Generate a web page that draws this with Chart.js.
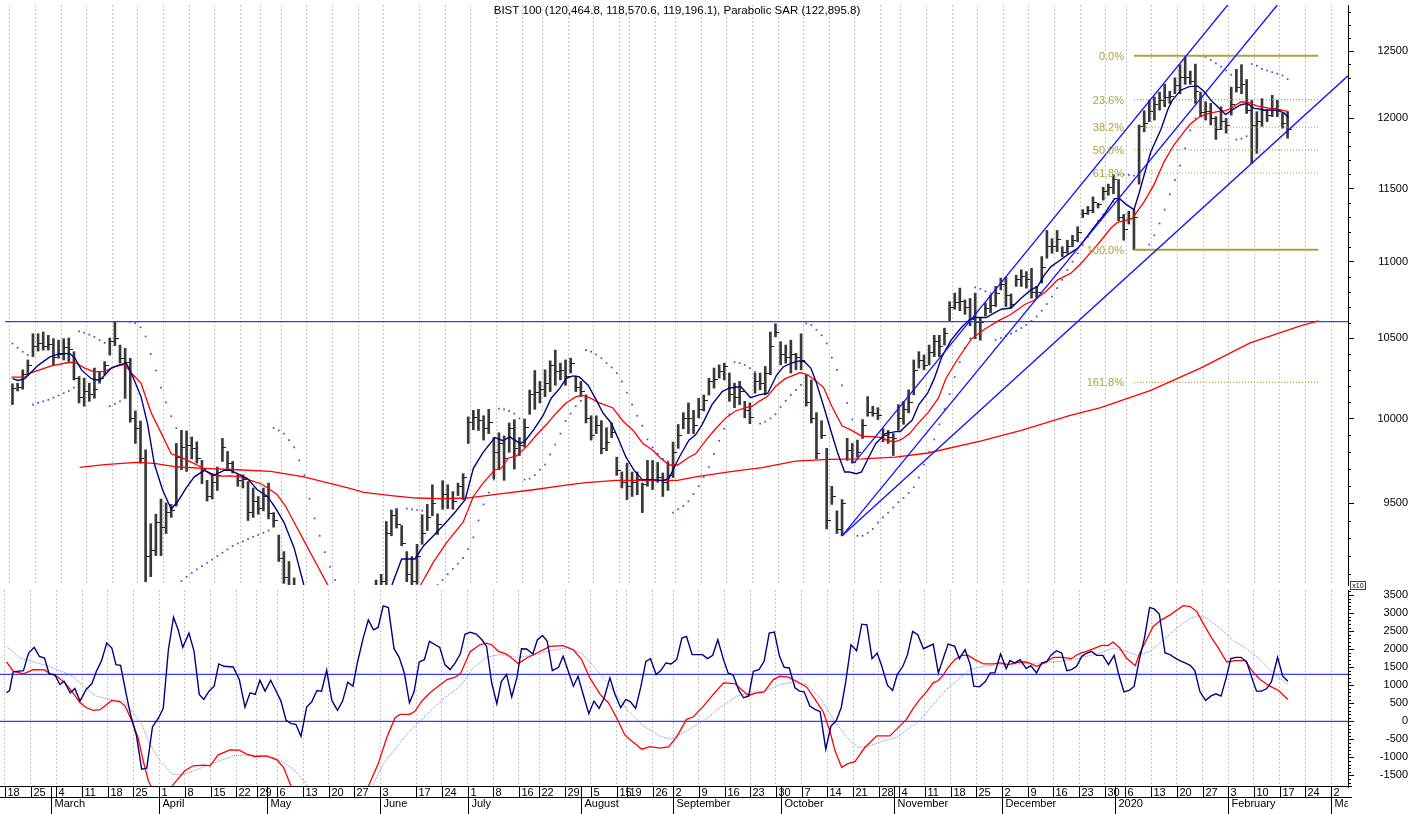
<!DOCTYPE html>
<html>
<head>
<meta charset="utf-8">
<script src="https://cdn.jsdelivr.net/npm/chart.js@4.4.1/dist/chart.umd.min.js"></script>
<style>
  html, body { margin: 0; padding: 0; background: #fff; }
  #wrap { position: relative; width: 1408px; height: 814px; overflow: hidden; }
  canvas { position: absolute; left: 0; }
  #priceCanvas { top: 0; }
  #oscCanvas { top: 590px; }
</style>
</head>
<body>
<div id="wrap">
  <canvas id="priceCanvas" width="1408" height="590"></canvas>
  <canvas id="oscCanvas" width="1408" height="224"></canvas>
</div>
<script>
// Chart title
const title = 'BIST 100 (120,464.8, 118,570.6, 119,196.1), Parabolic SAR (122,895.8)';

// trading calendar (weekends and these exchange holidays are skipped)
const firstDay = [2019, 1, 18];
const lastDay = [2020, 2, 6];
const holidays = ['2019-04-23', '2019-05-01', '2019-06-05', '2019-06-06', '2019-06-07', '2019-07-15',
  '2019-08-12', '2019-08-13', '2019-08-14', '2019-08-30', '2019-10-29', '2020-01-01'];
const hiddenWeeks = ['2019-06-10'];
const monthNames = ['January', 'February', 'March', 'April', 'May', 'June', 'July', 'August',
  'September', 'October', 'November', 'December'];

// daily bars, one value per trading day (index 0 = 18 Feb 2019)
const high = [
  10215,10219,10302,10364,10530,10530,10541,10520,10499,10489,
  10499,10503,10416,10260,10250,10219,10313,10292,10354,10503,
  10607,10458,10437,10375,10048,9987,9814,9383,9438,9525,
  9503,9494,9852,9931,9927,9891,9862,9751,9634,9673,
  9712,9882,9804,9745,9666,9666,9627,9589,9540,9589,
  9618,9447,9319,9226,9171,9080,9000,8950,8880,8860,
  8900,8880,8800,8720,8680,8620,8540,8560,8700,8800,
  8900,9068,9100,9396,9462,9470,9373,9226,9198,9267,
  9435,9494,9608,9440,9632,9608,9568,9618,9673,10012,
  10052,10058,10019,10058,9887,9916,9897,9975,9995,9887,
  9999,10176,10298,10230,10302,10358,10426,10344,10364,10375,
  10264,10230,10147,10019,10019,9989,9946,9975,9770,9683,
  9735,9683,9683,9618,9751,9751,9739,9677,9740,9860,
  9966,10038,10097,10052,10126,10146,10250,10313,10333,10344,
  10282,10219,10230,10107,10097,10282,10282,10323,10541,10594,
  10479,10458,10489,10406,10530,10271,10239,10038,9989,9823,
  9599,9457,9522,9883,9852,9872,9996,10136,10077,10068,
  9940,9930,9911,10087,10107,10178,10364,10416,10395,10458,
  10520,10520,10566,10737,10793,10826,10748,10758,10793,10634,
  10727,10779,10837,10892,10898,10788,10911,10946,10935,10957,
  10837,11035,11211,11156,11211,11101,11145,11178,11237,11354,
  11376,11442,11398,11509,11531,11597,11563,11321,11343,11354,
  11952,12056,12133,12157,12193,12251,12200,12299,12398,12465,
  12350,12402,12193,12122,12110,12013,12085,12000,12230,12363,
  12398,12287,12133,12049,12145,12061,12169,12133,12036,12046
];
const low = [
  10087,10171,10182,10271,10385,10420,10426,10426,10333,10375,
  10364,10354,10239,10097,10077,10107,10126,10219,10271,10395,
  10454,10344,10126,9980,9852,9735,9059,9087,9204,9204,
  9328,9420,9485,9696,9686,9760,9735,9615,9513,9525,
  9575,9745,9696,9677,9599,9589,9402,9420,9438,9457,
  9411,9364,9171,9050,8990,8930,8860,8800,8720,8740,
  8780,8740,8650,8580,8540,8460,8350,8400,8520,8640,
  8740,8880,8960,9020,9315,9359,9259,9059,9010,9045,
  9267,9345,9429,9322,9466,9470,9466,9545,9522,9852,
  9934,9930,9872,9911,9644,9696,9634,9799,9700,9780,
  9829,10028,10058,10097,10136,10167,10206,10239,10206,10282,
  10167,10136,9975,9872,9911,9790,9809,9887,9663,9589,
  9522,9540,9550,9447,9599,9580,9622,9540,9575,9650,
  9823,9940,9911,9911,10006,10048,10146,10188,10250,10239,
  10107,10068,10087,10006,9971,10157,10178,10147,10271,10510,
  10333,10344,10282,10302,10302,10077,9975,9760,9882,9354,
  9494,9328,9315,9751,9735,9770,9882,10016,10016,9996,
  9862,9852,9780,9930,9967,10036,10147,10313,10302,10333,
  10385,10385,10458,10607,10688,10678,10655,10582,10499,10489,
  10644,10665,10706,10814,10706,10696,10837,10837,10826,10760,
  10760,10859,11024,11057,11068,11035,11057,11101,11134,11299,
  11321,11332,11365,11420,11453,11464,11277,11145,11255,11080,
  11531,11903,11977,11988,12061,12085,12110,12181,12181,12251,
  12251,12110,12013,11988,11953,11848,11918,11893,12024,12193,
  12181,12036,11677,11748,11942,11977,12013,12013,11929,11857
];
const close = [
  10188,10190,10270,10330,10450,10470,10450,10460,10380,10400,
  10440,10430,10250,10130,10170,10150,10180,10250,10330,10480,
  10500,10370,10350,10000,9940,9760,9200,9230,9390,9360,
  9450,9460,9770,9830,9840,9820,9760,9700,9540,9620,
  9660,9830,9730,9700,9630,9640,9450,9510,9470,9540,
  9440,9400,9190,9080,9020,8960,8900,8840,8760,8820,
  8860,8780,8690,8620,8580,8500,8420,8520,8660,8760,
  8860,9010,9060,9330,9430,9380,9270,9100,9060,9200,
  9330,9420,9500,9380,9550,9530,9510,9600,9650,9980,
  10010,9990,9940,9980,9800,9850,9760,9940,9820,9840,
  9950,10150,10160,10180,10220,10330,10290,10300,10260,10340,
  10190,10170,10000,9900,9960,9820,9860,9920,9690,9620,
  9600,9620,9640,9610,9640,9630,9650,9620,9660,9800,
  9900,10000,10000,9960,10060,10110,10230,10240,10290,10320,
  10150,10130,10170,10050,10010,10230,10220,10280,10450,10540,
  10400,10380,10400,10380,10360,10100,10000,9790,9900,9400,
  9540,9350,9500,9810,9740,9800,9960,10040,10030,10020,
  9900,9890,9880,10000,10060,10100,10300,10360,10330,10410,
  10480,10450,10530,10700,10730,10740,10700,10620,10600,10600,
  10690,10710,10790,10850,10780,10720,10880,10900,10880,10800,
  10800,10960,11100,11100,11150,11060,11100,11140,11200,11330,
  11350,11400,11390,11480,11510,11560,11300,11220,11290,11300,
  11940,11960,12050,12100,12130,12150,12160,12240,12300,12300,
  12270,12200,12040,12050,12000,11920,11980,11950,12100,12230,
  12250,12060,11950,11980,12060,12020,12070,12060,11960,11920
];
// Parabolic SAR, one dot per trading day
const sar = [
  10468,10441,10416,10395,10087,10097,10107,10116,10130,10143,
  10157,10171,10192,10545,10537,10524,10510,10489,10472,10077,
  10091,10107,10126,10607,10598,10571,10513,10401,10298,10192,
  10101,10016,9944,9062,9086,9108,9127,9145,9164,9181,
  9201,9220,9238,9257,9272,9284,9298,9310,9320,9332,
  9345,9945,9930,9911,9872,9829,9751,9664,9527,9414,
  9315,9223,9141,9068,9000,8930,8870,8810,8760,8350,
  8370,8400,8450,8520,8620,8720,8830,9470,9466,9462,
  9458,9010,9025,9041,9069,9100,9130,9159,9190,9241,
  9306,9402,9494,9562,9638,10062,10058,10048,10032,10003,
  9638,9644,9664,9696,9727,9786,9845,9911,9987,10032,
  10077,10110,10426,10416,10399,10375,10344,10317,10282,10230,
  10161,10087,10019,9958,9876,9829,9790,9760,9745,9447,
  9466,9485,9512,9555,9600,9654,9712,9790,9868,9940,
  10028,10350,10344,10333,10313,10289,9971,9983,10003,10028,
  10072,10110,10147,10178,10209,10596,10585,10556,10520,10468,
  10379,10302,10205,10097,9996,9315,9315,9332,9354,9390,
  9420,9447,9476,9506,9531,9560,9593,9650,9727,9800,
  9876,9967,10060,10151,10257,10350,10440,10500,10830,10820,
  10805,10790,10490,10503,10516,10531,10548,10567,10587,10613,
  10641,10678,10722,10770,10826,10880,10946,11001,11057,11112,
  11167,11222,11277,11321,11365,11409,11597,11597,11596,11590,
  11079,11079,11116,11178,11259,11354,11460,11561,11661,11784,
  11913,12000,12464,12457,12433,12408,12383,12354,12322,11847,
  11854,11871,12403,12391,12366,12354,12342,12330,12317,12290
];

// moving averages: [day index, value]
const fastMa = [[0,10247],[1.1,10236],[2.4,10247],[3.7,10289],[5,10330],[7.3,10383],[9.2,10404],[11.2,10404],[12.2,10375],[13.5,10300],[15.4,10247],[17,10236],[18,10268],[19.3,10313],[20.6,10330],[22.2,10344],[23.2,10282],[25.1,10136],[26.4,9967],[27.7,9731],[29.3,9579],[31,9466],[32.3,9512],[33.9,9589],[35.5,9654],[37.5,9692],[39.4,9664],[41.3,9692],[42.6,9692],[43.9,9673],[45.9,9644],[47.8,9579],[49.8,9540],[51.1,9485],[53,9393],[55,9247],[56.9,9041],[60,8850],[64,8640],[67,8540],[70,8700],[72,8900],[74.1,9041],[76,9185],[78.6,9185],[80.3,9259],[82.2,9315],[84.1,9373],[86.1,9438],[88.4,9522],[90,9704],[91.9,9799],[94.2,9887],[95.8,9868],[97.1,9891],[99.1,9852],[100,9862],[101.7,9931],[103.6,10019],[105.2,10126],[106.9,10188],[108.1,10247],[109.4,10264],[110.7,10258],[112.4,10206],[114,10116],[115.3,10036],[116.9,9975],[118.2,9887],[119.8,9770],[121.4,9692],[123,9638],[125,9638],[127,9632],[128.2,9646],[130.2,9770],[132.1,9872],[133.4,9904],[134.7,9967],[136.6,10087],[138.6,10167],[139.9,10188],[140.9,10192],[142.2,10198],[144.1,10130],[145.8,10147],[147.5,10157],[149.2,10268],[150.5,10320],[152.1,10344],[153.6,10358],[154.6,10354],[155.9,10313],[156.9,10230],[158.5,10068],[159.8,9930],[161.2,9790],[162.5,9683],[163.4,9683],[164.8,9673],[165.8,9683],[167.2,9770],[168.6,9852],[170.5,9911],[172.5,9923],[173.4,9923],[174.3,9952],[175.7,9993],[177,10087],[178.7,10157],[180,10247],[181.5,10385],[183.3,10490],[185.3,10570],[186.9,10621],[187.9,10634],[190.2,10634],[191.2,10655],[193.1,10688],[195,10696],[196.9,10758],[198.9,10814],[200.2,10837],[201.5,10911],[202.8,10968],[204.1,10999],[206,11046],[208,11090],[209.3,11145],[211.2,11233],[213.2,11321],[215.2,11430],[216.2,11430],[217.4,11392],[219,11354],[220,11467],[221,11596],[222.3,11760],[224.3,11923],[225.6,12063],[226.5,12134],[228.2,12209],[229.8,12234],[231.4,12239],[232.7,12197],[234,12134],[235.3,12087],[236.9,12028],[238.2,12063],[239.8,12098],[241.1,12110],[242.4,12075],[244.3,12063],[247,12059],[248.3,12040],[249.2,12005]];
const slowMa = [[-0.2,10257],[2.4,10257],[3.7,10285],[5,10299],[7.6,10327],[10.9,10348],[12.2,10348],[14.1,10313],[16,10289],[18,10293],[19.9,10320],[21.9,10337],[23.2,10282],[25.1,10219],[27.1,10036],[29,9917],[31,9790],[32.9,9770],[34.9,9741],[36.8,9712],[38.8,9664],[40.7,9658],[42.6,9660],[44.6,9654],[46.5,9634],[48.5,9614],[50.1,9585],[51.7,9550],[53.3,9485],[55,9392],[57.2,9272],[59.5,9150],[61.4,9050],[65,8880],[70,8760],[75,8850],[79.7,9041],[82.2,9167],[84.8,9278],[88,9392],[90,9540],[91.9,9618],[94.2,9696],[95.5,9706],[96.8,9764],[98.4,9778],[100.4,9833],[102.3,9901],[104.3,9967],[106.2,10036],[108.1,10097],[110.1,10136],[111.2,10143],[112.7,10130],[114.6,10097],[117.2,10068],[119.2,9987],[121.2,9930],[123.1,9852],[125,9813],[126.6,9764],[128.2,9724],[129.9,9724],[132.1,9770],[133.4,9790],[135.4,9870],[137.3,9940],[139.3,10006],[141.2,10048],[143.2,10068],[144.5,10077],[145.8,10107],[147.4,10136],[149,10198],[150.9,10247],[152.5,10268],[153.8,10285],[155.2,10273],[156.8,10236],[158.4,10192],[160,10077],[162,9958],[163.9,9930],[165.9,9895],[168.5,9891],[169.7,9887],[171,9868],[172.3,9862],[173.6,9876],[175.2,9911],[176.8,9971],[178.8,10038],[180.8,10126],[182.3,10250],[184.6,10370],[187.3,10499],[189.9,10561],[192.5,10613],[195,10655],[197.6,10717],[199.6,10748],[201.8,10803],[204.1,10880],[206.7,10924],[208.7,10990],[210.7,11068],[212.5,11140],[214.5,11228],[215.8,11266],[217.1,11277],[218.7,11294],[221,11409],[222.9,11526],[224.9,11690],[226.8,11808],[228.8,11904],[230.1,11963],[231.8,12010],[233.3,12033],[235.3,12050],[236.9,12057],[238.2,12080],[239.8,12120],[241.1,12120],[243,12092],[245.6,12073],[247.5,12064],[249.2,12050]];
const longMa = [[13.1,9710],[18,9726],[24.2,9740],[27.7,9733],[32.3,9712],[37.5,9704],[43.9,9696],[50.4,9686],[56.9,9654],[60.8,9625],[65.7,9589],[68.6,9564],[74.4,9544],[78.9,9531],[84.1,9527],[88.7,9531],[95.2,9555],[101.7,9579],[108.1,9606],[112,9620],[117.9,9634],[129.9,9634],[133.4,9654],[139.9,9683],[146.4,9708],[152.9,9747],[159.4,9757],[165.9,9760],[172.4,9770],[178.8,9795],[189.2,9868],[197,9930],[206.4,10019],[212.5,10068],[222.3,10175],[232,10313],[241.7,10472],[251.5,10580],[255,10613]];

// drawn studies: [startIndex, startPrice, endIndex, endPrice]
const trendLines = [[164.3, 9735, 237.3, 12855], [162, 9315, 247, 12855], [162, 9315, 260.8, 12314]];
const resistance = 10608;
const fibHigh = 12465;
const fibLow = 11080;
const fibRatios = [0, 0.236, 0.382, 0.5, 0.618, 1, 1.618];
const fibStart = 219;
const fibEnd = 255;

// oscillator lines: [day index, value]
const oscFast = [[-0.2,791],[0.4,855],[1.1,1370],[3.1,1406],[4.1,1893],[5.2,2050],[6.2,1802],[7.2,1756],[8.1,1314],[9.2,1296],[10.2,1020],[11,1112],[12.2,791],[13.1,910],[14.1,561],[15.3,882],[16.4,1039],[17.3,1388],[18.3,1682],[19.3,2169],[20.3,2031],[21.1,1572],[22,1553],[23.1,745],[24,147],[25.1,-404],[26.1,-1324],[27.1,-1296],[28.2,-156],[29.4,101],[30.3,358],[31.3,1985],[32.3,2886],[33.2,2537],[34.1,2050],[35.3,2445],[36.3,1940],[37.3,745],[38.2,607],[39.2,836],[40.2,974],[41.1,1590],[42.1,1526],[43.9,1507],[45.1,1158],[46.2,395],[47.2,791],[48.2,745],[49.1,1140],[50.1,836],[51.2,1140],[52.2,855],[53.2,561],[54.2,28],[55.2,-64],[56.1,-83],[57.1,-414],[58.2,395],[59.2,542],[60.2,855],[61.1,836],[62.1,1415],[63.1,579],[64.2,303],[65.2,561],[66.2,1085],[67.2,974],[68.1,1645],[69.2,2307],[70.2,2813],[71.2,2537],[72.1,2601],[73.1,3199],[74.1,3153],[75.2,2013],[76.2,1774],[77.2,1342],[78.2,515],[79.1,818],[80.1,1645],[81.1,1710],[82.1,2215],[83.2,2123],[84.1,2050],[85.1,1572],[86.1,1434],[87.1,1618],[88.1,1870],[89,2410],[90,2470],[91.2,2418],[92.3,2261],[93.2,2077],[94.2,1066],[95.2,487],[96.1,1112],[97.1,1296],[98.1,680],[99.1,1204],[100,2013],[101,2004],[102.2,1866],[103.1,2261],[104.1,2381],[105,2215],[106,1406],[107.2,1498],[108.1,1802],[109.1,1388],[110.1,974],[111,1250],[112,745],[113.1,211],[114.1,561],[115.1,358],[116.1,653],[117.2,1204],[118.2,745],[119.3,377],[120.3,607],[121.2,542],[122.2,358],[123.2,947],[124.2,1663],[125.1,1737],[126.2,1296],[127.1,1406],[128.1,1618],[129.1,1590],[130.2,1710],[131.2,2307],[132.1,2353],[133.2,1848],[134.2,1848],[135.2,1848],[136.2,1737],[137.2,1829],[138.2,2261],[139.3,1710],[140.2,1342],[141.2,1278],[142.3,855],[143.2,653],[144.2,698],[145.1,1388],[146.2,1434],[147.2,1663],[148.2,2445],[149.2,2472],[150.2,1802],[151.1,1498],[152.1,1480],[153.2,929],[154.1,836],[155,818],[156.1,423],[157.1,331],[158.1,266],[159.2,-772],[160.2,-129],[161.2,9],[162.2,377],[163.1,1112],[164.1,2123],[165.2,1958],[166.2,2693],[167.2,2675],[168.2,1737],[169.2,1893],[170.1,1526],[171.2,1002],[172.2,855],[173.1,1296],[174.2,1526],[175.1,1848],[176.1,2491],[177.1,2399],[178.2,2013],[180.1,2142],[181.1,1342],[183,2142],[184.3,2077],[185.2,1737],[186.3,1985],[187.3,1572],[188,974],[189.1,956],[190.2,1094],[191.2,1342],[192.1,1342],[193.2,1866],[194.3,1461],[195,1682],[196,1618],[197,1710],[198.2,1461],[199.1,1544],[200.2,1342],[201.2,1618],[202.2,1663],[203.1,1848],[204.1,1958],[205.1,1893],[206.1,1406],[207,1434],[208,1526],[209,1802],[210,1893],[210.9,1940],[211.9,1829],[213.1,1829],[214.2,1572],[215.3,1829],[216.2,1296],[217.2,818],[218.2,855],[219.2,974],[220.2,1710],[221.2,2307],[222.2,3153],[223.1,3116],[224.1,2969],[225.2,1893],[226.2,1848],[227.1,1756],[228.1,1682],[229.1,1618],[230.1,1553],[231,1406],[232,818],[233.1,579],[234.1,698],[235.1,763],[236.1,698],[237.1,1204],[238,1737],[239,1774],[240,1774],[241.1,1645],[242.1,1204],[243,836],[244,836],[245,910],[245.9,1094],[247.1,1774],[248.1,1250],[249.1,1112]];
const oscSlow = [[-0.2,1645],[1.1,1388],[3.1,1314],[5,1434],[7.2,1425],[8.3,1314],[9.6,1250],[11.2,1066],[12.5,836],[14.1,515],[15.4,377],[16.7,303],[18,322],[19.3,469],[20.3,579],[21.9,542],[22.9,423],[24.2,9],[25.4,-450],[26.4,-1094],[27.4,-1645],[28,-1811],[30,-2150],[32.9,-1645],[34.5,-1369],[36.1,-1232],[38.1,-1213],[39.4,-1232],[41,-928],[43.3,-790],[45.1,-800],[46.5,-910],[48.1,-974],[50.4,-956],[52.4,-1066],[53.7,-1278],[55,-1737],[58,-2500],[62,-2800],[66,-2700],[69,-2200],[70.4,-1737],[72.1,-1186],[73.8,-450],[75.4,101],[76.4,193],[78.3,193],[79.3,285],[80.6,561],[82.2,791],[83.8,974],[85.5,1158],[87.1,1223],[88.2,1342],[90,1930],[91.9,2123],[93.2,2169],[94.2,2123],[95.5,1940],[97.1,1866],[99.4,1599],[101,1756],[103,1893],[105.5,2077],[108.1,2096],[110.1,1985],[111.7,1710],[113.3,1204],[115.3,745],[116.9,515],[118.5,101],[120.1,-377],[121.8,-588],[123.4,-772],[125,-699],[126.9,-745],[128.6,-708],[130.2,-432],[132.1,55],[133.4,119],[135.4,423],[137.3,745],[139.3,1066],[141.5,1048],[144.1,717],[145.8,791],[147.2,818],[149,1158],[150.3,1250],[151.9,1223],[153.5,1112],[155.5,947],[157.1,607],[158.7,266],[160,-267],[161,-818],[162.3,-1278],[163.3,-1186],[164.9,-1112],[166.8,-726],[169.1,-404],[171.7,-404],[173.3,-175],[174.9,55],[176.2,358],[177.5,607],[178.8,818],[180.1,1066],[181.1,1131],[182.1,1296],[183,1498],[184.3,1710],[185.6,1829],[186.9,1829],[188.2,1710],[189.9,1590],[191.8,1590],[193.1,1618],[194.7,1572],[197,1645],[198.3,1645],[200.2,1526],[201.8,1618],[203.5,1774],[205.1,1774],[207,1737],[208.3,1866],[209.9,1940],[211.3,2013],[212.9,2105],[214.2,2105],[215.1,2197],[216.4,2031],[217.7,1756],[219.4,1544],[220.3,1893],[221.6,2261],[222.9,2629],[224.5,2813],[226.2,2951],[227.5,3088],[228.8,3208],[230.1,3180],[231.4,3042],[232.7,2693],[234.3,2307],[235.6,2031],[237.2,1645],[238.8,1682],[240.8,1682],[242.1,1406],[243.7,1158],[245.6,974],[247.3,855],[249.1,607]];
const oscSignal = [[-0.2,2077],[2.4,1756],[5,1645],[7.6,1553],[9.6,1434],[12.2,1296],[14.8,974],[17.3,698],[19.9,607],[22.5,561],[24.5,239],[26.1,-83],[27.7,-634],[29.7,-1094],[32,-1461],[33.9,-1480],[36.2,-1369],[38.7,-1232],[41.3,-1094],[43.9,-956],[46.5,-928],[49.1,-956],[51.7,-1002],[53.7,-1140],[55.6,-1324],[57.6,-1645],[58.5,-1811],[62,-2200],[66,-2300],[69,-2050],[70.9,-1811],[73.1,-1186],[75.1,-818],[77.7,-358],[80.3,9],[82.9,377],[85.5,698],[88.1,974],[90.6,1480],[93.2,1774],[95.8,1848],[99.1,1774],[102.3,1829],[105.5,1958],[108.8,2031],[111.7,1893],[114.6,1434],[117.2,974],[120.5,331],[123.7,-129],[126.9,-404],[128.9,-496],[132.1,-267],[135.4,9],[138.6,377],[141.9,698],[144.5,791],[147.7,855],[150.3,1020],[152.9,1085],[155.5,1020],[158.1,653],[160.7,55],[163.3,-450],[165.5,-726],[167.8,-680],[170.4,-542],[173,-450],[175.6,-175],[177.5,28],[180.1,469],[182.7,882],[185.3,1204],[187.3,1434],[189.9,1526],[193.1,1572],[197,1590],[200.9,1618],[204.8,1663],[208.7,1756],[212.6,1893],[215.1,2031],[217.7,1940],[219.7,1829],[222.3,1940],[224.9,2261],[227.5,2583],[230.1,2859],[231.7,2932],[233.3,2859],[235.9,2583],[238.5,2234],[241.1,2013],[243.7,1710],[246.3,1342],[249.1,1020]];
const oscLevels = [1300, 0];

// axis ticks
const priceTicks = [9500, 10000, 10500, 11000, 11500, 12000, 12500];
const oscTicks = [-1500, -1000, -500, 0, 500, 1000, 1500, 2000, 2500, 3000, 3500];

// ---- layout / ranges
const FONT = '"Liberation Sans", Arial, Helvetica, sans-serif';
const xMin = -1.46, xMax = 260.8;
const priceMin = 9041, priceMax = 12855;
const oscMin = -1820, oscMax = 3640;
const AXIS_W = 60;
const FIB_COLOR = '#aca23e';

Chart.defaults.font.family = FONT;

// build the trading days
const days = [];
const endDate = new Date(Date.UTC(lastDay[0], lastDay[1], lastDay[2]));
for (let d = new Date(Date.UTC(firstDay[0], firstDay[1], firstDay[2])); d <= endDate; d = new Date(d.getTime() + 86400000)) {
  const wd = d.getUTCDay();
  const iso = d.toISOString().slice(0, 10);
  if (wd === 0 || wd === 6 || holidays.includes(iso)) continue;
  days.push(d);
}
const weekTicks = [];
const monthTicks = [];
days.forEach((d, i) => {
  const prev = days[i - 1];
  const iso = d.toISOString().slice(0, 10);
  if ((!prev || d.getUTCDay() < prev.getUTCDay()) && !hiddenWeeks.includes(iso)) {
    weekTicks.push({ idx: i, label: String(d.getUTCDate()) });
  }
  if (prev && d.getUTCMonth() !== prev.getUTCMonth()) {
    const m = d.getUTCMonth();
    monthTicks.push({ idx: i, label: m === 0 ? String(d.getUTCFullYear()) : monthNames[m] });
  }
});
const gridTicks = weekTicks.map(t => t.idx - 0.5).filter(v => v < xMax);

function xAxis() {
  return {
    type: 'linear', min: xMin, max: xMax, bounds: 'data', offset: false,
    afterBuildTicks: s => { s.ticks = gridTicks.map(v => ({ value: v })); },
    afterFit: s => { s.height = 0; s.paddingLeft = 0; s.paddingRight = 0; },
    ticks: { display: false },
    grid: { color: '#c8c8c8', lineWidth: 1, drawTicks: false, offset: false },
    border: { display: false, dash: [2, 2] }
  };
}
function yAxis(extra, ticksList) {
  return Object.assign({
    position: 'right', bounds: 'data',
    afterBuildTicks: s => { s.ticks = ticksList.map(v => ({ value: v })); },
    afterFit: s => { s.width = AXIS_W; s.paddingTop = 0; s.paddingBottom = 0; },
    ticks: { color: '#000', font: { size: 11 }, padding: 8, crossAlign: 'far', autoSkip: false, callback: v => String(v) },
    grid: { drawOnChartArea: false, drawTicks: true, tickLength: 6, color: '#000' },
    border: { display: true, color: '#000', width: 1 }
  }, extra);
}
function minorTicks(ctx, scale, from, to, step, major) {
  ctx.beginPath();
  for (let v = from; v <= to; v += step) {
    if (v % major === 0) continue;
    const py = Math.round(scale.getPixelForValue(v)) + 0.5;
    ctx.moveTo(scale.left, py);
    ctx.lineTo(scale.left + 3, py);
  }
  ctx.stroke();
}
function pairs(list) { return list.map(p => ({ x: p[0], y: p[1] })); }

// small right-hand tick used as the close mark of each bar
const closeMark = document.createElement('canvas');
closeMark.width = 8; closeMark.height = 1;
(function () { const g = closeMark.getContext('2d'); g.fillStyle = '#222'; g.fillRect(4, 0, 4, 1); })();

const priceDecor = {
  id: 'priceDecor',
  afterDraw(chart) {
    const { ctx, scales: { x, y }, chartArea: a } = chart;
    ctx.save();
    ctx.strokeStyle = '#000';
    ctx.lineWidth = 1;
    minorTicks(ctx, y, 9100, 12800, 100, 500);
    // fibonacci labels
    ctx.font = '11px ' + FONT;
    ctx.fillStyle = FIB_COLOR;
    ctx.textAlign = 'right';
    ctx.textBaseline = 'middle';
    const lx = x.getPixelForValue(fibStart) - 10;
    fibRatios.forEach(r => {
      const lvl = fibHigh - r * (fibHigh - fibLow);
      ctx.fillText((r * 100).toFixed(1) + '%', lx, y.getPixelForValue(lvl) + 1);
    });
    // title
    ctx.fillStyle = '#000';
    ctx.font = '11.5px ' + FONT;
    ctx.textAlign = 'center';
    ctx.fillText(title, 677, 11);
    // scale factor box of the lower pane
    ctx.strokeStyle = '#444';
    ctx.strokeRect(a.right + 2.5, 581.5, 15, 8);
    ctx.font = '7px ' + FONT;
    ctx.fillText('x10', a.right + 10, 586);
    ctx.restore();
  }
};

const oscDecor = {
  id: 'oscDecor',
  afterDraw(chart) {
    const { ctx, scales: { x, y }, chartArea: a } = chart;
    ctx.save();
    ctx.strokeStyle = '#000';
    ctx.lineWidth = 1;
    minorTicks(ctx, y, -1800, 3600, 100, 500);
    const top = a.bottom - 0.5, mid = a.bottom + 10.5, bottom = chart.height;
    ctx.beginPath();
    ctx.moveTo(0, top); ctx.lineTo(a.right + 4, top);
    ctx.moveTo(0, mid); ctx.lineTo(a.right + 4, mid);
    ctx.stroke();
    ctx.font = '11px ' + FONT;
    ctx.fillStyle = '#000';
    ctx.textBaseline = 'middle';
    ctx.textAlign = 'left';
    ctx.beginPath();
    ctx.rect(0, a.bottom - 1, a.right, chart.height - a.bottom + 1);
    ctx.clip();
    ctx.beginPath();
    weekTicks.forEach(t => {
      const px = Math.round(x.getPixelForValue(t.idx - 0.5)) + 0.5;
      if (px > a.right) return;
      ctx.moveTo(px, top); ctx.lineTo(px, mid);
      ctx.fillText(t.label, px + 2, top + 6);
    });
    monthTicks.forEach(m => {
      const px = Math.round(x.getPixelForValue(m.idx - 0.5)) + 0.5;
      if (px > a.right) return;
      ctx.moveTo(px, top); ctx.lineTo(px, bottom);
      ctx.fillText(m.label, px + 3, mid + 6);
    });
    ctx.stroke();
    ctx.restore();
  }
};

const lineDs = (data, color, width, order, extra) => Object.assign({
  type: 'line', data, borderColor: color, borderWidth: width, pointRadius: 0, tension: 0, fill: false, order
}, extra || {});

// ---- price pane
const priceDatasets = [];
trendLines.forEach(t => priceDatasets.push(lineDs([{ x: t[0], y: t[1] }, { x: t[2], y: t[3] }], '#1010ff', 1.3, 0)));
priceDatasets.push(lineDs(pairs(fastMa), '#000080', 1.4, 1));
priceDatasets.push(lineDs(pairs(slowMa), '#ff0000', 1.3, 2));
priceDatasets.push(lineDs(pairs(longMa), '#ff0000', 1.3, 3));
fibRatios.forEach(r => {
  const lvl = fibHigh - r * (fibHigh - fibLow);
  const solid = r === 0 || r === 1;
  priceDatasets.push(lineDs([{ x: fibStart, y: lvl }, { x: fibEnd, y: lvl }], FIB_COLOR, solid ? 2 : 1.2, 4,
    solid ? {} : { borderDash: [1, 2] }));
});
priceDatasets.push(lineDs([{ x: xMin, y: resistance }, { x: xMax, y: resistance }], '#3a3aff', 1.3, 5));
priceDatasets.push({
  type: 'scatter', data: sar.map((v, i) => ({ x: i, y: v })), showLine: false,
  pointStyle: 'rect', pointRadius: 1.2, pointBorderWidth: 0, backgroundColor: '#4848c8', order: 6
});
priceDatasets.push({
  type: 'scatter', data: close.map((v, i) => ({ x: i, y: v })), showLine: false,
  pointStyle: closeMark, pointRadius: 4, order: 7
});
priceDatasets.push({
  type: 'bar', data: high.map((h, i) => ({ x: i, y: [low[i], h] })),
  backgroundColor: '#383838', borderWidth: 0, barThickness: 2, grouped: false, order: 8
});

new Chart(document.getElementById('priceCanvas'), {
  type: 'line',
  data: { datasets: priceDatasets },
  options: {
    responsive: false, animation: false, events: [],
    layout: { padding: 0 },
    plugins: { legend: { display: false }, tooltip: { enabled: false }, title: { display: false } },
    scales: {
      x: xAxis(),
      y: yAxis({ type: 'logarithmic', min: priceMin, max: priceMax }, priceTicks)
    }
  },
  plugins: [priceDecor]
});

// ---- oscillator pane
const oscDatasets = [
  lineDs(pairs(oscFast), '#000080', 1.4, 0),
  lineDs(pairs(oscSlow), '#ff0000', 1.3, 1),
  lineDs(pairs(oscSignal), '#8080cc', 1, 2, { borderDash: [1, 1] })
];
oscLevels.forEach(v => oscDatasets.push(lineDs([{ x: xMin, y: v }, { x: xMax, y: v }], '#3a3aff', 1.3, 3)));

new Chart(document.getElementById('oscCanvas'), {
  type: 'line',
  data: { datasets: oscDatasets },
  options: {
    responsive: false, animation: false, events: [],
    layout: { padding: { left: 0, right: 0, top: 0, bottom: 27 } },
    plugins: { legend: { display: false }, tooltip: { enabled: false }, title: { display: false } },
    scales: {
      x: xAxis(),
      y: yAxis({ type: 'linear', min: oscMin, max: oscMax }, oscTicks)
    }
  },
  plugins: [oscDecor]
});
</script>
</body>
</html>
